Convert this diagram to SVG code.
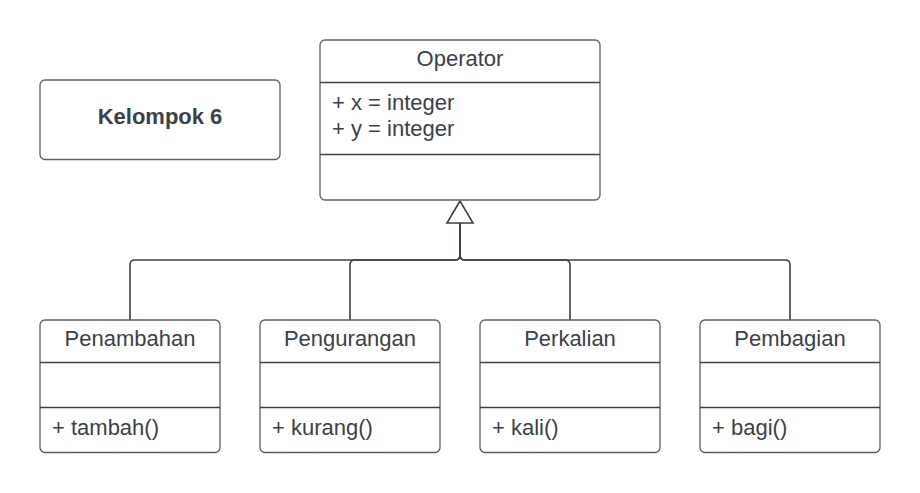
<svg xmlns="http://www.w3.org/2000/svg" width="920" height="493" viewBox="0 0 920 493">
<style>
.box{fill:#fff;stroke:#5e5e5e;stroke-width:1.3}
.div{stroke:#3a414a;stroke-width:1.3}
.t{font-family:"Liberation Sans",Arial,sans-serif;font-size:22px;fill:#3a414a}
.c{text-anchor:middle}
.b{font-weight:bold}
.con{fill:none;stroke:#3a414a;stroke-width:1.6}
</style>
<rect width="920" height="493" fill="#fff"/>
<g id="connectors">
<path class="con" d="M460 223 V255 Q460 260 455 260 H135 Q130 260 130 265 V320"/>
<path class="con" d="M460 223 V255 Q460 260 455 260 H355 Q350 260 350 265 V320"/>
<path class="con" d="M460 223 V255 Q460 260 465 260 H565 Q570 260 570 265 V320"/>
<path class="con" d="M460 223 V255 Q460 260 465 260 H785 Q790 260 790 265 V320"/>
<polygon points="460,201 447,223 473,223" fill="#fff" stroke="#3a414a" stroke-width="1.6"/>
</g>
<g id="kelompok">
<rect class="box" x="40" y="80" width="240" height="79.5" rx="5"/>
<text class="t c b" x="160" y="124">Kelompok 6</text>
</g>
<g id="operator">
<rect class="box" x="320" y="40" width="280" height="160" rx="5"/>
<line class="div" x1="320" y1="82.5" x2="600" y2="82.5"/>
<line class="div" x1="320" y1="154.5" x2="600" y2="154.5"/>
<text class="t c" x="460" y="66">Operator</text>
<text class="t" x="332" y="110">+ x = integer</text>
<text class="t" x="332" y="136">+ y = integer</text>
</g>
<g id="penambahan">
<rect class="box" x="40" y="320" width="180" height="132.5" rx="5"/>
<line class="div" x1="40" y1="362.5" x2="220" y2="362.5"/>
<line class="div" x1="40" y1="407.5" x2="220" y2="407.5"/>
<text class="t c" x="130" y="346">Penambahan</text>
<text class="t" x="52" y="435">+ tambah()</text>
</g>
<g id="pengurangan">
<rect class="box" x="260" y="320" width="180" height="132.5" rx="5"/>
<line class="div" x1="260" y1="362.5" x2="440" y2="362.5"/>
<line class="div" x1="260" y1="407.5" x2="440" y2="407.5"/>
<text class="t c" x="350" y="346">Pengurangan</text>
<text class="t" x="272" y="435">+ kurang()</text>
</g>
<g id="perkalian">
<rect class="box" x="480" y="320" width="180" height="132.5" rx="5"/>
<line class="div" x1="480" y1="362.5" x2="660" y2="362.5"/>
<line class="div" x1="480" y1="407.5" x2="660" y2="407.5"/>
<text class="t c" x="570" y="346">Perkalian</text>
<text class="t" x="492" y="435">+ kali()</text>
</g>
<g id="pembagian">
<rect class="box" x="700" y="320" width="180" height="132.5" rx="5"/>
<line class="div" x1="700" y1="362.5" x2="880" y2="362.5"/>
<line class="div" x1="700" y1="407.5" x2="880" y2="407.5"/>
<text class="t c" x="790" y="346">Pembagian</text>
<text class="t" x="712" y="435">+ bagi()</text>
</g>
</svg>
